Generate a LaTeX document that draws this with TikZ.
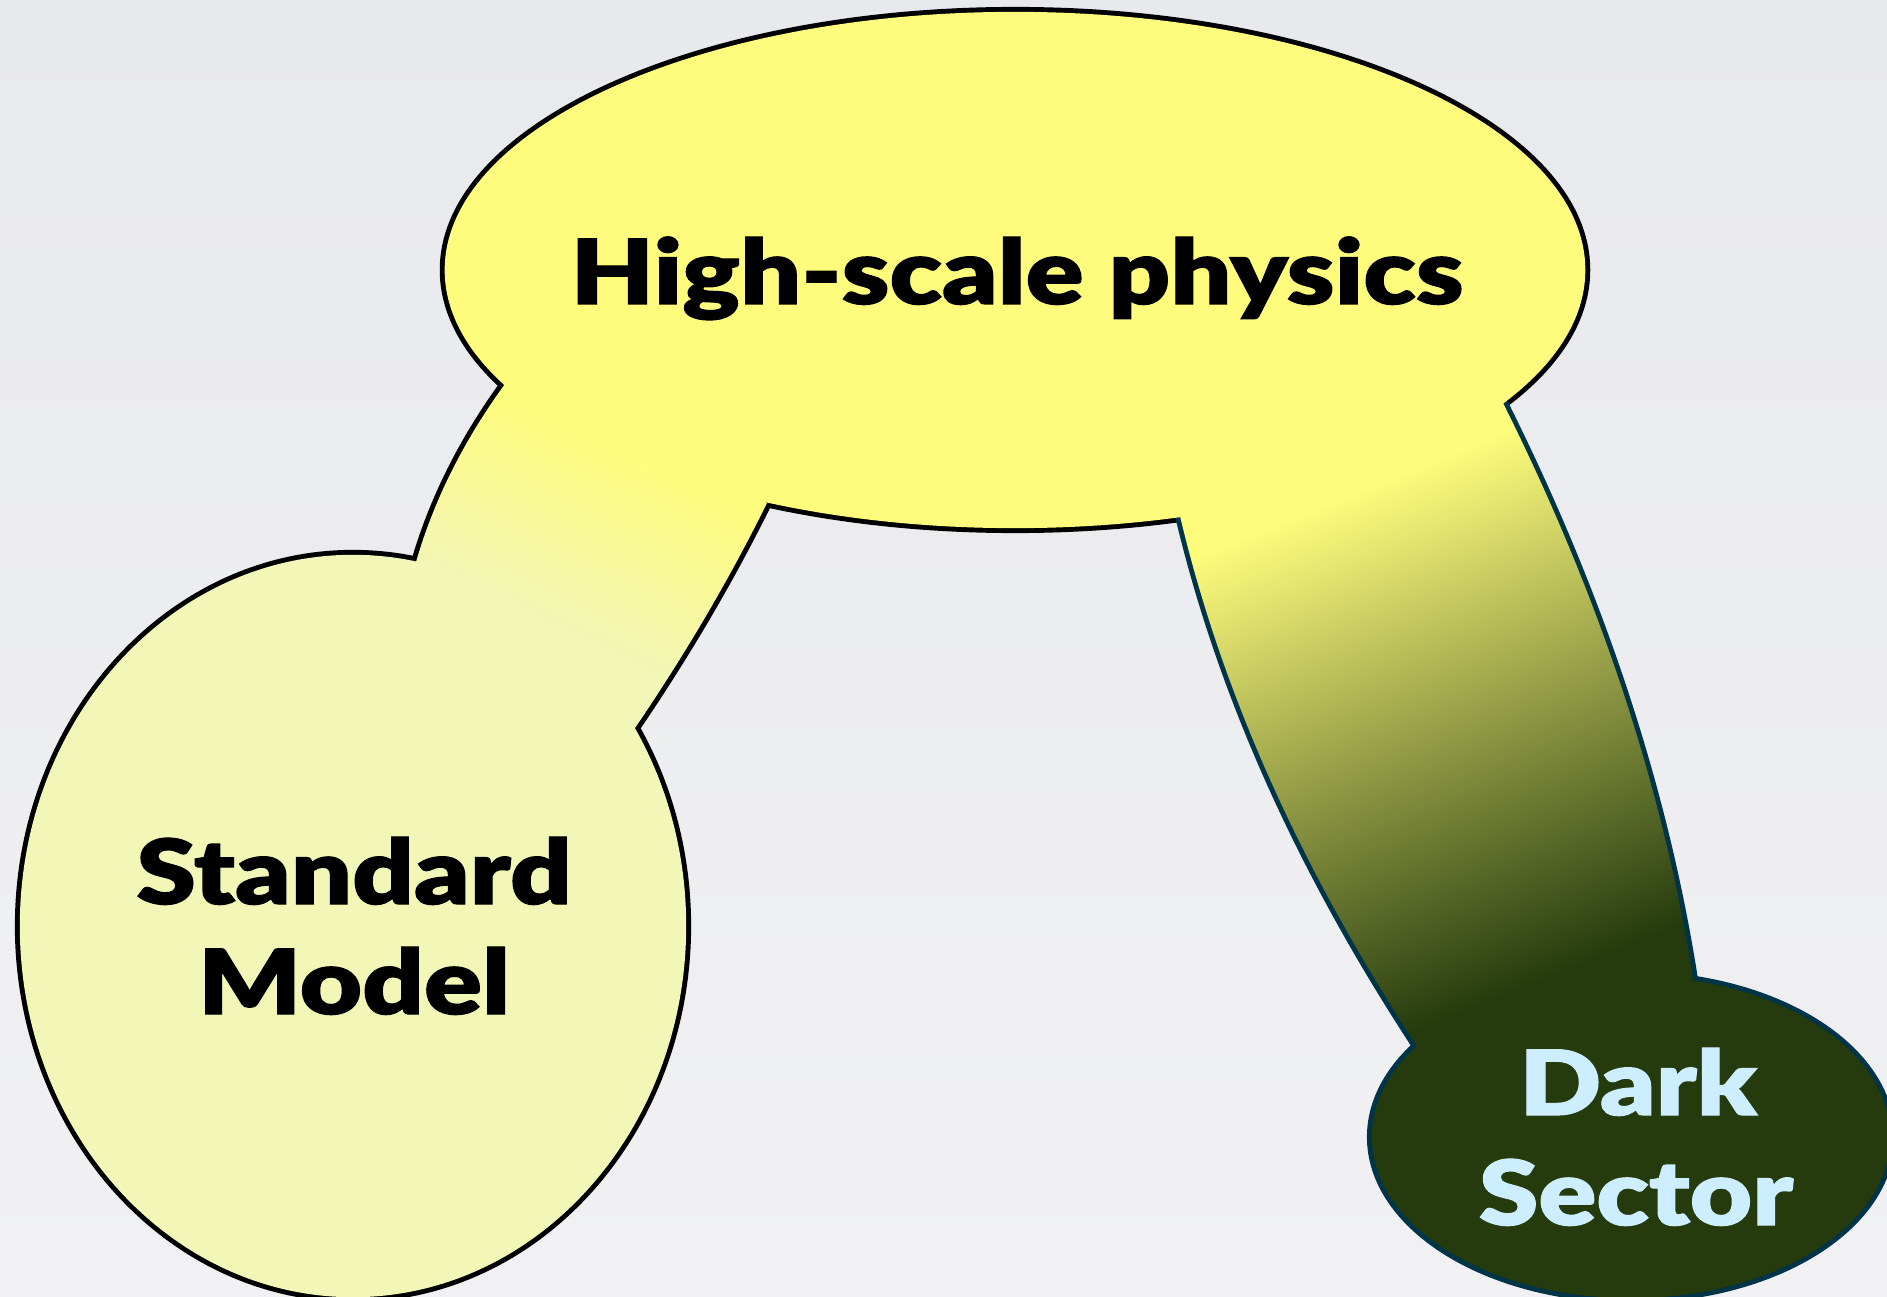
\documentclass[tikz,border=0pt]{standalone}
\usepackage{fontspec}
\newfontfamily\lbl{Lato Black}[FakeStretch=1.2,FakeBold=1.3]
\definecolor{hy}{RGB}{255,252,125}
\definecolor{smc}{RGB}{242,246,182}
\definecolor{dk}{RGB}{37,59,13}
\definecolor{dkline}{RGB}{0,52,72}
\definecolor{dtext}{RGB}{205,238,255}
\definecolor{bgtop}{RGB}{232,233,237}
\definecolor{bgbot}{RGB}{241,241,243}
\pgfdeclareverticalshading{bandRshade}{100bp}{color(0bp)=(dk); color(41.667bp)=(dk); color(58.333bp)=(hy); color(100bp)=(hy)}
\pgfdeclareverticalshading{bandLshade}{100bp}{color(0bp)=(smc); color(41.667bp)=(smc); color(58.333bp)=(hy); color(100bp)=(hy)}
\begin{document}
\begin{tikzpicture}[x=0.01cm,y=-0.01cm,
  outl/.style={line width=2.8pt, line join=round},
  lab/.style={font=\lbl\fontsize{25.5}{31}\selectfont, inner sep=0pt, anchor=base}]
\shade[top color=bgtop,bottom color=bgbot] (0,0) rectangle (1887,1297);
\useasboundingbox (0,0) rectangle (1887,1297);
% key points
\coordinate (hc) at (1015,270);
\coordinate (smcen) at (353,926);
\coordinate (dsc) at (1631,1137);
\coordinate (Pa) at (505,384);
\coordinate (Pb) at (416,562);
\coordinate (Pc) at (635,728);
\coordinate (Pd) at (767,503);
\coordinate (TinL) at (640,400);
\coordinate (SinL) at (400,700);
\coordinate (Qa) at (1180,516);
\coordinate (Qb) at (1417,1046);
\coordinate (Qc) at (1693,979);
\coordinate (Qd) at (1503,403);
\coordinate (TinR) at (1340,420);
\coordinate (SinR) at (1560,1100);
% outlines (outer halves remain visible)
\draw[outl] (hc) ellipse [x radius=5.70cm, y radius=2.58cm];
\draw[outl] (smcen) ellipse [x radius=3.33cm, y radius=3.71cm];
\draw[outl,draw=dkline] (dsc) ellipse [x radius=2.59cm, y radius=1.61cm];
\draw[outl] (TinL) -- (Pa) .. controls (462,443) and (433,503) .. (Pb) -- (SinL) -- (Pc) .. controls (686,653) and (730,578) .. (Pd) -- cycle;
\draw[outl,draw=dkline] (TinR) -- (Qa) .. controls (1222,693) and (1301,869) .. (Qb) -- (SinR) -- (Qc) .. controls (1663,787) and (1599,595) .. (Qd) -- cycle;
% band fills
\begin{scope}
\clip (TinL) -- (Pa) .. controls (462,443) and (433,503) .. (Pb) -- (SinL) -- (Pc) .. controls (686,653) and (730,578) .. (Pd) -- cycle;
\shade[shading=bandLshade,transform canvas={rotate around={-24.6:(560,525.9)}}] (100,240.9) rectangle (1020,810.9);
\end{scope}
\begin{scope}
\clip (TinR) -- (Qa) .. controls (1222,693) and (1301,869) .. (Qb) -- (SinR) -- (Qc) .. controls (1663,787) and (1599,595) .. (Qd) -- cycle;
\shade[shading=bandRshade,transform canvas={rotate around={22:(1400,755)}}] (600,-32) rectangle (2200,1542);
\end{scope}
% ellipse fills
\fill[hy] (hc) ellipse [x radius=5.70cm, y radius=2.58cm];
\fill[smc] (smcen) ellipse [x radius=3.33cm, y radius=3.71cm];
\fill[dk] (dsc) ellipse [x radius=2.59cm, y radius=1.61cm];
% labels
\node[lab] (hs) at (1017,304) {High-scale physics};
\node[lab] (sm1) at (354,904) {Standard};
\node[lab] (sm2) at (354,1014) {Model};
\node[lab,text=dtext] (ds1) at (1638,1115) {Dark};
\node[lab,text=dtext] (ds2) at (1636,1225) {Sector};
\end{tikzpicture}
\end{document}
